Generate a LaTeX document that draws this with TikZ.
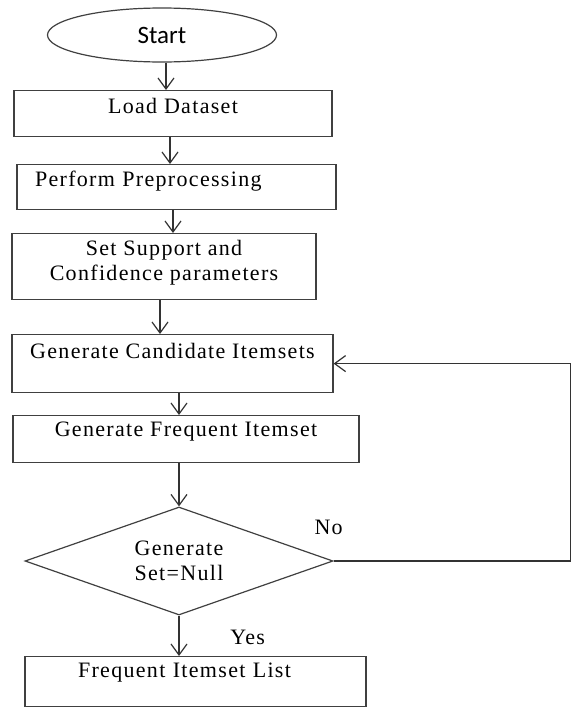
\documentclass[tikz,border=0pt]{standalone}
\usepackage{fontspec}
\setmainfont{Liberation Serif}[LetterSpace=6]
\newfontfamily\startfont{Carlito}
\usetikzlibrary{shapes.geometric}
\usetikzlibrary{arrows.meta}
\usetikzlibrary{calc}
\tikzset{
  stepbox/.style={draw=black!75, rectangle, inner sep=0pt, anchor=north, minimum height=0pt},
  arr/.style={draw=black!80, -{Straight Barb[length=5.5pt,width=8pt]}},
  txt/.style={font=\fontsize{11pt}{12.5pt}\selectfont}
}
\begin{document}
\begin{tikzpicture}[x=0.5pt, y=-0.5pt, line width=0.6pt, txt]
\useasboundingbox (0,0) rectangle (570,707);
\node[draw=black!75, ellipse, inner sep=0pt, minimum width=114.5pt, minimum height=27pt, font=\startfont\fontsize{12.5pt}{13pt}\selectfont] (start) at (162,35) {Start};
\node[stepbox, minimum width=159pt, text height=11.5pt, text depth=11.5pt] (load) at (173,90) {Load Dataset};
\node[stepbox, inner xsep=9pt, text width=141.5pt, align=left, text height=11pt, text depth=11.5pt] (prep) at (176.5,164) {Perform Preprocessing};
\node[stepbox, minimum width=152pt, align=center, text height=23.5pt, text depth=9.5pt] (supp) at (164,233) {Set Support and\\Confidence parameters};
\node[stepbox, minimum width=160.5pt, text height=12pt, text depth=17pt] (cand) at (172.5,334) {Generate Candidate Itemsets};
\node[stepbox, minimum width=173pt, text height=10.5pt, text depth=13pt] (freq) at (186,415) {Generate Frequent Itemset};
\node[draw=black!75, diamond, aspect=2.85, inner sep=0pt, minimum width=154pt, minimum height=54pt, align=center] (dec) at (179,561) {Generate\\Set=Null};
\node[stepbox, inner xsep=26.5pt, text width=117.5pt, align=left, text height=10.5pt, text depth=14.5pt] (list) at (195.5,656) {Frequent Itemset List};
\coordinate (a1) at ($(start.south)+(4,0)$);
\coordinate (a2) at ($(load.south)+(-3,0)$);
\coordinate (a3) at ($(prep.south)+(-3.5,0)$);
\coordinate (a4) at ($(supp.south)+(-4,0)$);
\draw[arr] (a1) -- (a1 |- load.north);
\draw[arr] (a2) -- (a2 |- prep.north);
\draw[arr] (a3) -- (a3 |- supp.north);
\draw[arr] (a4) -- (a4 |- cand.north);
\draw[arr] (cand.south -| dec.north) -- (freq.north -| dec.north);
\draw[arr] (freq.south -| dec.north) -- (dec.north);
\draw[arr] (dec.south) -- node[pos=0.55, right=22pt] {Yes} (dec.south |- list.north);
\draw[arr] (dec.east) node[anchor=base, xshift=-2.5pt, yshift=13.5pt] {No} -- ++(237,0) |- (cand.east);
\end{tikzpicture}
\end{document}
